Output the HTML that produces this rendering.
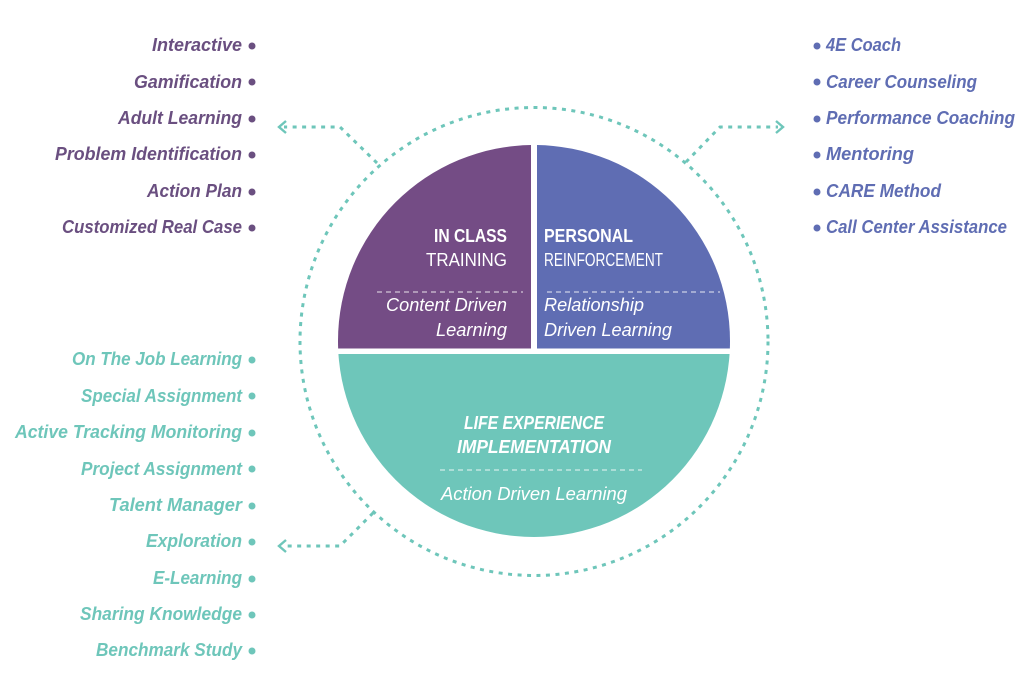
<!DOCTYPE html>
<html><head><meta charset="utf-8"><style>
html,body{margin:0;padding:0;background:#fff;width:1024px;height:683px;overflow:hidden}
svg{display:block;font-family:"Liberation Sans",sans-serif;filter:blur(.3px)}
.l text{font-size:18px;font-weight:bold;font-style:italic}
.w text{fill:#fff;font-size:18px}
</style></head><body>
<svg width="1024" height="683" viewBox="0 0 1024 683">
<defs>
<clipPath id="cp"><rect x="300" y="100" width="231" height="248.500"/></clipPath>
<clipPath id="cb"><rect x="537" y="100" width="231" height="248.500"/></clipPath>
<clipPath id="ct"><rect x="300" y="354" width="468" height="200"/></clipPath>
</defs>
<circle cx="534" cy="341" r="196" fill="#744c85" clip-path="url(#cp)"/>
<circle cx="534" cy="341" r="196" fill="#5f6db3" clip-path="url(#cb)"/>
<circle cx="534" cy="341" r="196" fill="#6ec6ba" clip-path="url(#ct)"/>
<g fill="none" stroke="#6ec6ba" stroke-width="3">
<circle cx="534" cy="341.500" r="234" stroke-dasharray="4 5.500"/>
<path d="M377 163L340 127H284" stroke-dasharray="4 5.500"/>
<path d="M686 162L720 127H778" stroke-dasharray="4 5.500"/>
<path d="M373 513L340 546H284" stroke-dasharray="4 5.500"/>
<path stroke-width="2.400" d="M286 121L279 127L286 133M776 121L783 127L776 133M286 540L279 546L286 552"/>
</g>
<g stroke="#fff" stroke-width="1" stroke-dasharray="5 4" opacity=".85">
<path d="M377 292H523M547 292H720M440 470H642"/>
</g>
<g class="w">
<text x="434" y="242" textLength="73" lengthAdjust="spacingAndGlyphs" font-weight="bold">IN CLASS</text>
<text x="426" y="266" textLength="81" lengthAdjust="spacingAndGlyphs">TRAINING</text>
<text x="386" y="311" textLength="121" lengthAdjust="spacingAndGlyphs" font-style="italic">Content Driven</text>
<text x="436" y="336" textLength="71" lengthAdjust="spacingAndGlyphs" font-style="italic">Learning</text>
<text x="544" y="242" textLength="89" lengthAdjust="spacingAndGlyphs" font-weight="bold">PERSONAL</text>
<text x="544" y="266" textLength="119" lengthAdjust="spacingAndGlyphs">REINFORCEMENT</text>
<text x="544" y="311" textLength="100" lengthAdjust="spacingAndGlyphs" font-style="italic">Relationship</text>
<text x="544" y="336" textLength="128" lengthAdjust="spacingAndGlyphs" font-style="italic">Driven Learning</text>
<text x="464" y="429" textLength="140" lengthAdjust="spacingAndGlyphs" font-weight="bold" font-style="italic">LIFE EXPERIENCE</text>
<text x="457" y="453" textLength="154" lengthAdjust="spacingAndGlyphs" font-weight="bold" font-style="italic">IMPLEMENTATION</text>
<text x="441" y="500" textLength="186" lengthAdjust="spacingAndGlyphs" font-style="italic">Action Driven Learning</text>
</g>
<g class="l" fill="#6a4f80">
<text x="152" y="51" textLength="90" lengthAdjust="spacingAndGlyphs">Interactive</text>
<text x="134" y="88" textLength="108" lengthAdjust="spacingAndGlyphs">Gamification</text>
<text x="118" y="124" textLength="124" lengthAdjust="spacingAndGlyphs">Adult Learning</text>
<text x="55" y="160" textLength="187" lengthAdjust="spacingAndGlyphs">Problem Identification</text>
<text x="147" y="197" textLength="95" lengthAdjust="spacingAndGlyphs">Action Plan</text>
<text x="62" y="233" textLength="180" lengthAdjust="spacingAndGlyphs">Customized Real Case</text>
<circle cx="252" cy="46" r="3.500"/><circle cx="252" cy="82" r="3.500"/><circle cx="252" cy="119" r="3.500"/><circle cx="252" cy="155" r="3.500"/><circle cx="252" cy="192" r="3.500"/><circle cx="252" cy="228" r="3.500"/>
</g>
<g class="l" fill="#5f6db3">
<text x="826" y="51" textLength="75" lengthAdjust="spacingAndGlyphs">4E Coach</text>
<text x="826" y="88" textLength="151" lengthAdjust="spacingAndGlyphs">Career Counseling</text>
<text x="826" y="124" textLength="189" lengthAdjust="spacingAndGlyphs">Performance Coaching</text>
<text x="826" y="160" textLength="88" lengthAdjust="spacingAndGlyphs">Mentoring</text>
<text x="826" y="197" textLength="115" lengthAdjust="spacingAndGlyphs">CARE Method</text>
<text x="826" y="233" textLength="181" lengthAdjust="spacingAndGlyphs">Call Center Assistance</text>
<circle cx="817" cy="46" r="3.500"/><circle cx="817" cy="82" r="3.500"/><circle cx="817" cy="119" r="3.500"/><circle cx="817" cy="155" r="3.500"/><circle cx="817" cy="192" r="3.500"/><circle cx="817" cy="228" r="3.500"/>
</g>
<g class="l" fill="#6ec6ba">
<text x="72" y="365" textLength="170" lengthAdjust="spacingAndGlyphs">On The Job Learning</text>
<text x="81" y="402" textLength="161" lengthAdjust="spacingAndGlyphs">Special Assignment</text>
<text x="15" y="438" textLength="227" lengthAdjust="spacingAndGlyphs">Active Tracking Monitoring</text>
<text x="81" y="475" textLength="161" lengthAdjust="spacingAndGlyphs">Project Assignment</text>
<text x="109" y="511" textLength="133" lengthAdjust="spacingAndGlyphs">Talent Manager</text>
<text x="146" y="547" textLength="96" lengthAdjust="spacingAndGlyphs">Exploration</text>
<text x="153" y="584" textLength="89" lengthAdjust="spacingAndGlyphs">E-Learning</text>
<text x="80" y="620" textLength="162" lengthAdjust="spacingAndGlyphs">Sharing Knowledge</text>
<text x="96" y="656" textLength="146" lengthAdjust="spacingAndGlyphs">Benchmark Study</text>
<circle cx="252" cy="360" r="3.500"/><circle cx="252" cy="396" r="3.500"/><circle cx="252" cy="433" r="3.500"/><circle cx="252" cy="469" r="3.500"/><circle cx="252" cy="506" r="3.500"/><circle cx="252" cy="542" r="3.500"/><circle cx="252" cy="579" r="3.500"/><circle cx="252" cy="615" r="3.500"/><circle cx="252" cy="651" r="3.500"/>
</g>
</svg>
</body></html>
